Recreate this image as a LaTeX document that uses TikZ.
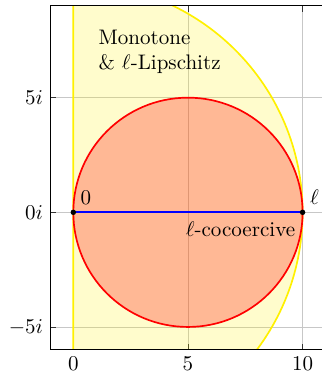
\documentclass[tikz,border=0pt]{standalone}
\usepackage{amsmath}
\usepackage{amssymb}
\usepackage{xcolor}
\usetikzlibrary{positioning,calc}
\definecolor{LipYellow}{RGB}{255,240,0}
\definecolor{CocoRed}{RGB}{255,0,0}
\definecolor{SegBlue}{RGB}{0,0,255}

\begin{document}
\begin{tikzpicture}[
    x=0.383cm, y=0.383cm,
    gridline/.style={draw=black!22, line width=0.4pt},
    tickmark/.style={draw=black!80, line width=0.4pt},
    axisframe/.style={draw=black, line width=0.5pt},
    lipregion/.style={
      draw=LipYellow,
      fill=yellow,
      fill opacity=0.2,
      line width=0.8pt
    },
    cocodisk/.style={
      draw=CocoRed,
      fill=CocoRed,
      fill opacity=0.27,
      line width=0.8pt
    },
    segment/.style={draw=SegBlue, line width=0.9pt},
    dot/.style={circle, fill=black, inner sep=0pt, minimum size=2.6pt},
    ticklabel/.style={font=\normalsize}
  ]

    % page size (axis cut at the right)
    \useasboundingbox (-3.197,-7.139) rectangle (10.846,9.259);
    \clip (-3.197,-7.139) rectangle (10.846,9.259);

    % grid and ticks
    \foreach \t in {0,5,10} {
      \draw[gridline] (\t,-6) -- (\t,9);
      \draw[tickmark] (\t,-6) -- ++(0,0.26);
      \draw[tickmark] (\t,9) -- ++(0,-0.26);
      \node[ticklabel, below] (xl\t) at (\t,-6) {$\t$};
    }
    \foreach \t in {-5,0,5} {
      \draw[gridline] (-1,\t) -- (11,\t);
      \draw[tickmark] (-1,\t) -- ++(0.26,0);
      \node[ticklabel, left] (yl\t) at (-1,\t) {$\t i$};
    }

    % monotone & Lipschitz region
    \begin{scope}
      \clip (-1,-6) rectangle (11,9);
      \path[lipregion] (0,10) arc[start angle=90, end angle=-90, radius=10] -- cycle;
    \end{scope}

    % cocoercive disk
    \path[cocodisk] (5,0) circle[radius=5];

    \draw[axisframe] (-1,-6) rectangle (11,9);

    \coordinate (O) at (0,0);
    \coordinate (L) at (10,0);
    \draw[segment] (O) -- (L);
    \node[dot] (dO) at (O) {};
    \node[dot] (dL) at (L) {};

    \node[above right] (lO) at (O) {$0$};
    \node[above right] (lL) at (L) {$\ell$};
    \node[below left, yshift=-0.9pt] (coco) at (L) {$\ell$-cocoercive};
    \node[anchor=north west, align=left] (mono) at (0.78,8.28)
      {Monotone\\\& $\ell$-Lipschitz};

  \end{tikzpicture}
\end{document}
